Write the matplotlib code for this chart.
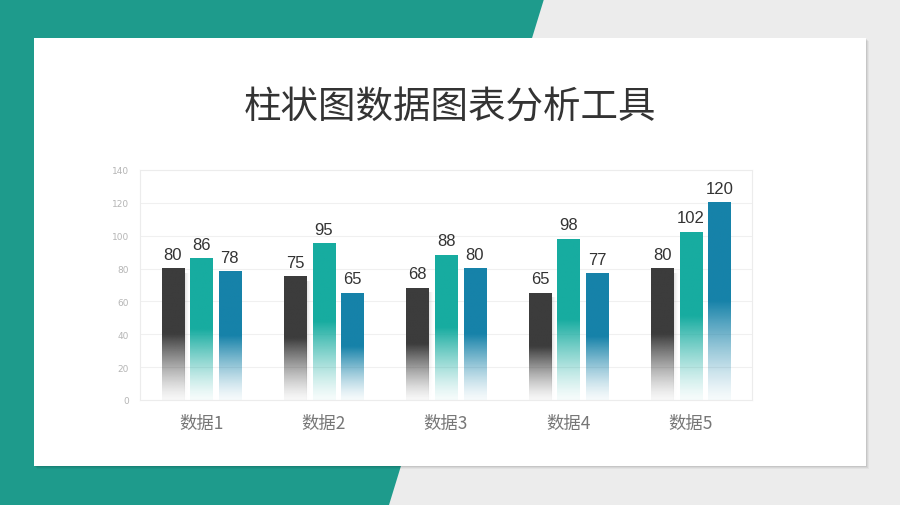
import numpy as np
import matplotlib.pyplot as plt
from matplotlib.patches import Polygon, Rectangle

categories = ["数据1", "数据2", "数据3", "数据4", "数据5"]
series_a = [80, 75, 68, 65, 80]
series_b = [86, 95, 88, 98, 102]
series_c = [78, 65, 80, 77, 120]
colors = ["#3c3c3c", "#17aca0", "#1682a9"]
title = "柱状图数据图表分析工具"

W, H = 900, 506
fig = plt.figure(figsize=(9, 5.06), dpi=100)
fig.patch.set_facecolor("#ececec")

def px(x, y):
    return (x / W, 1 - y / H)

# teal slanted band behind the card
fig.patches.append(Polygon([px(0, 0), px(544, 0), px(389, 506), px(0, 506)],
                           closed=True, transform=fig.transFigure,
                           facecolor="#1e9b8c", edgecolor="none", zorder=0))
# card shadow + card
for off, a in [(3, 0.04), (2, 0.05), (1, 0.07)]:
    fig.patches.append(Rectangle(px(34 + off, 467 + off), 832 / W, 428 / H,
                                 transform=fig.transFigure, facecolor="black",
                                 alpha=a, edgecolor="none", zorder=1))
fig.patches.append(Rectangle(px(34, 467), 832 / W, 428 / H, transform=fig.transFigure,
                             facecolor="white", edgecolor="none", zorder=2))

fig.text(450 / W, 1 - 108 / H, title, ha="center", va="center", fontsize=27,
         color="#333333", family=["Noto Sans CJK SC", "DejaVu Sans"], zorder=5)

ax = fig.add_axes([140 / W, 1 - 401 / H, 612 / W, 230 / H])
ax.set_zorder(5)
ax.set_facecolor("none")
ax.set_yticks(range(0, 141, 20))
ax.grid(axis="y", color="#f0f0f0", linewidth=0.8)
ax.set_axisbelow(True)
for s in ax.spines.values():
    s.set_color("#ececec")
    s.set_linewidth(0.8)
ax.tick_params(length=0)
ax.tick_params(axis="y", labelsize=6.5, labelcolor="#b5b5b5", pad=8)
ax.set_xticks(range(len(categories)))
ax.set_xticklabels(categories, fontsize=12.5, color="#777777",
                   family=["Noto Sans CJK SC", "DejaVu Sans"])
ax.tick_params(axis="x", pad=10)

width = 0.18
step = 0.233
n = 200
frac = np.linspace(0, 1, n)  # 0 bottom, 1 top
alpha = np.clip(frac / 0.5, 0, 1) ** 1.3
alpha = 0.04 + 0.96 * alpha

for si, (vals, c) in enumerate(zip([series_a, series_b, series_c], colors)):
    rgb = np.array(plt.matplotlib.colors.to_rgb(c))
    img = np.zeros((n, 1, 4))
    img[:, 0, :3] = rgb
    img[:, 0, 3] = alpha
    img = img[::-1]
    for i, v in enumerate(vals):
        x0 = i + (si - 1) * step - width / 2
        if si == 0:
            # soft shadow on the right of dark bars
            sw = 12
            sh = np.zeros((n, sw, 4))
            sh[:, :, :3] = 0.35
            fade = np.linspace(1, 0, sw) ** 1.5
            sh[:, :, 3] = (alpha[::-1, None] * fade[None, :]) * 0.22
            ax.imshow(sh, extent=(x0 + width, x0 + width + 0.045, 0, v * 0.96),
                      aspect="auto", interpolation="bilinear", zorder=2)
        ax.imshow(img, extent=(x0, x0 + width, 0, v), aspect="auto",
                  interpolation="bilinear", zorder=3)
        ax.annotate(str(v), (x0 + width / 2, v), xytext=(0, 5),
                    textcoords="offset points", ha="center", va="bottom",
                    fontsize=12, color="#333333",
                    family=["Liberation Sans", "DejaVu Sans"])

ax.set_xlim(-0.5, len(categories) - 0.5)
ax.set_ylim(0, 140)

fig.savefig("out.png", dpi=100, facecolor=fig.get_facecolor())
